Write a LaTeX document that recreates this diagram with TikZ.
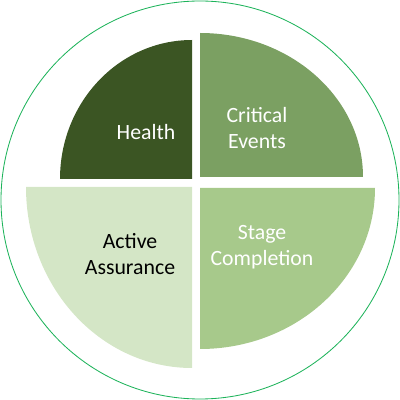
\documentclass[tikz,border=0pt]{standalone}
\usepackage{fontspec}
\setmainfont{Carlito}
\usepackage{xcolor}
\usetikzlibrary{positioning,calc}
\definecolor{healthgreen}{HTML}{3B5523}
\definecolor{criticalgreen}{HTML}{7BA062}
\definecolor{stagegreen}{HTML}{A7C98B}
\definecolor{activegreen}{HTML}{D4E6C6}
\definecolor{ringgreen}{HTML}{1DB35A}
\tikzset{
  quadrant/.style={draw=none},
  qlabel/.style={align=center,font=\fontsize{15.5}{18.5}\selectfont,inner sep=0pt},
  ring/.style={draw=ringgreen,line width=.6pt}
}

\begin{document}
\begin{tikzpicture}[x=0.25mm,y=0.25mm]
  \useasboundingbox (0,0) rectangle (400,400);
  \draw[ring] (200,200) circle (199);
  % the four quarters
  \fill[quadrant,healthgreen] (192,221) -- (60,221)
    arc[start angle=180,end angle=90,x radius=132,y radius=139] -- cycle;
  \fill[quadrant,criticalgreen] (200,223) -- (200,367)
    arc[start angle=90,end angle=0,x radius=163,y radius=144] -- cycle;
  \fill[quadrant,stagegreen] (200,212) -- (375,212)
    arc[start angle=0,end angle=-90,x radius=175,y radius=161] -- cycle;
  \fill[quadrant,activegreen] (192,213) -- (192,32)
    arc[start angle=270,end angle=180,x radius=166,y radius=181] -- cycle;
  % labels
  \node[qlabel,text=white] (health) at (146,268) {Health};
  \node[qlabel,text=white] (critical) at (257,272) {Critical\\Events};
  \node[qlabel,text=white] (stage) at (262,153) {Stage\\Completion};
  \node[qlabel,text=black] (active) at (130,146) {Active\\Assurance};
\end{tikzpicture}
\end{document}
